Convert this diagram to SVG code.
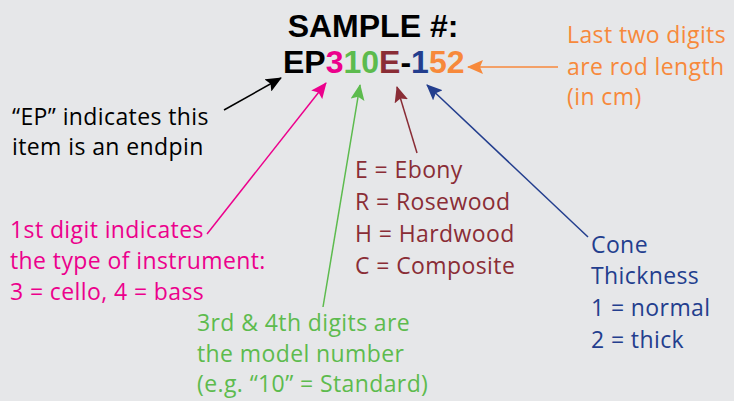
<svg xmlns="http://www.w3.org/2000/svg" width="734" height="401" viewBox="0 0 734 401">
<style>
.t{font-family:"Open Sans",Lato,sans-serif;font-size:23px;letter-spacing:0.4px}
.h{font-family:"Liberation Sans",Arial,sans-serif;font-weight:bold;font-size:32px}
.c{fill:none;stroke-width:1.5}
</style>
<rect width="734" height="401" fill="#E6E7E9"/>
<g id="title">
<text class="h" x="373" y="37" text-anchor="middle" fill="#000">SAMPLE #:</text>
<text class="h" x="283" y="73"><tspan fill="#000">EP</tspan><tspan fill="#EC008C">3</tspan><tspan fill="#5DBB4E">10</tspan><tspan fill="#8A2D36">E</tspan><tspan fill="#000">-</tspan><tspan fill="#233E8E">1</tspan><tspan fill="#F7893B">52</tspan></text>
</g>
<defs>
<marker id="a-k" viewBox="0 0 16 14" refX="15" refY="7" markerWidth="16" markerHeight="14" markerUnits="userSpaceOnUse" orient="auto"><path d="M0,0L16,7L0,14L3,7Z" fill="#000"/></marker>
<marker id="a-p" viewBox="0 0 16 14" refX="15" refY="7" markerWidth="16" markerHeight="14" markerUnits="userSpaceOnUse" orient="auto"><path d="M0,0L16,7L0,14L3,7Z" fill="#EC008C"/></marker>
<marker id="a-g" viewBox="0 0 16 14" refX="15" refY="7" markerWidth="16" markerHeight="14" markerUnits="userSpaceOnUse" orient="auto"><path d="M0,0L16,7L0,14L3,7Z" fill="#5DBB4E"/></marker>
<marker id="a-m" viewBox="0 0 16 14" refX="15" refY="7" markerWidth="16" markerHeight="14" markerUnits="userSpaceOnUse" orient="auto"><path d="M0,0L16,7L0,14L3,7Z" fill="#8A2D36"/></marker>
<marker id="a-b" viewBox="0 0 16 14" refX="15" refY="7" markerWidth="16" markerHeight="14" markerUnits="userSpaceOnUse" orient="auto"><path d="M0,0L16,7L0,14L3,7Z" fill="#233E8E"/></marker>
<marker id="a-o" viewBox="0 0 16 14" refX="15" refY="7" markerWidth="16" markerHeight="14" markerUnits="userSpaceOnUse" orient="auto"><path d="M0,0L16,7L0,14L3,7Z" fill="#F7893B"/></marker>
</defs>
<g id="connectors">
<line class="c" x1="224" y1="110" x2="281" y2="78" stroke="#000" marker-end="url(#a-k)"/>
<line class="c" x1="207" y1="234" x2="326" y2="83" stroke="#EC008C" marker-end="url(#a-p)"/>
<line class="c" x1="323" y1="307" x2="360" y2="85" stroke="#5DBB4E" marker-end="url(#a-g)"/>
<line class="c" x1="417" y1="153" x2="397" y2="87" stroke="#8A2D36" marker-end="url(#a-m)"/>
<line class="c" x1="588" y1="237" x2="427" y2="85" stroke="#233E8E" marker-end="url(#a-b)"/>
<line class="c" x1="558" y1="67" x2="468" y2="67" stroke="#F7893B" marker-end="url(#a-o)"/>
</g>
<g id="ep-note" class="t" fill="#000">
<text x="12" y="125">“EP” indicates this</text>
<text x="12" y="155">item is an endpin</text>
</g>
<g id="instrument-note" class="t" fill="#EC008C">
<text x="10" y="238">1st digit indicates</text>
<text x="10" y="269">the type of instrument:</text>
<text x="10" y="300">3 = cello, 4 = bass</text>
</g>
<g id="model-note" class="t" fill="#5DBB4E">
<text x="197" y="331">3rd &amp; 4th digits are</text>
<text x="197" y="362">the model number</text>
<text x="197" y="392">(e.g. “10” = Standard)</text>
</g>
<g id="wood-note" class="t" fill="#8A2D36">
<text x="355" y="178">E = Ebony</text>
<text x="355" y="210">R = Rosewood</text>
<text x="355" y="242">H = Hardwood</text>
<text x="355" y="274">C = Composite</text>
</g>
<g id="cone-note" class="t" fill="#233E8E">
<text x="591" y="253">Cone</text>
<text x="591" y="284">Thickness</text>
<text x="591" y="316">1 = normal</text>
<text x="591" y="348">2 = thick</text>
</g>
<g id="length-note" class="t" fill="#F7893B">
<text x="567" y="43">Last two digits</text>
<text x="567" y="75">are rod length</text>
<text x="567" y="105">(in cm)</text>
</g>
</svg>
